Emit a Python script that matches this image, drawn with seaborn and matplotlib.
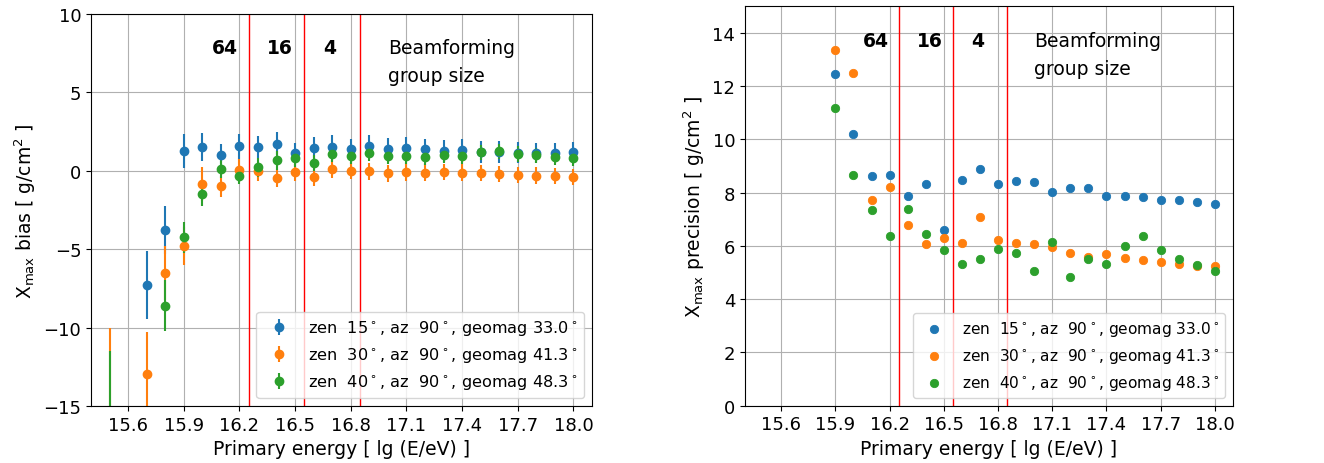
import numpy as np
import pandas as pd
import matplotlib
matplotlib.use("Agg")
import matplotlib.pyplot as plt
import seaborn as sns

# ---- data -------------------------------------------------------------
energy_bias = [15.5, 15.6, 15.7, 15.8, 15.9, 16.0, 16.1, 16.2, 16.3, 16.4, 16.5, 16.6, 16.7,
               16.8, 16.9, 17.0, 17.1, 17.2, 17.3, 17.4, 17.5, 17.6, 17.7, 17.8, 17.9, 18.0]
nan = np.nan
bias_zen15 = [nan, nan, -7.28, -3.77, 1.26, 1.51, 0.98, 1.55, 1.51, 1.72, 1.15, 1.47, 1.51,
              1.36, 1.60, 1.38, 1.47, 1.36, 1.26, 1.30, 1.21, 1.19, 1.15, 1.13, 1.15, 1.19]
err_zen15 = [nan, nan, 2.18, 1.55, 1.07, 0.87, 0.75, 0.77, 0.72, 0.73, 0.62, 0.70, 0.75,
             0.68, 0.70, 0.70, 0.68, 0.68, 0.68, 0.70, 0.70, 0.68, 0.68, 0.62, 0.62, 0.62]
bias_zen30 = [-18.0, nan, -12.93, -6.52, -4.81, -0.83, -0.98, 0.02, -0.04, -0.45, -0.09, -0.40, 0.09,
              0.00, -0.04, -0.17, -0.09, -0.13, -0.06, -0.11, -0.13, -0.21, -0.26, -0.30, -0.34, -0.38]
err_zen30 = [7.95, nan, 2.62, 1.75, 1.20, 1.10, 0.68, 0.75, 0.60, 0.57, 0.55, 0.55, 0.57,
             0.55, 0.55, 0.55, 0.55, 0.55, 0.52, 0.52, 0.52, 0.52, 0.52, 0.52, 0.52, 0.52]
bias_zen40 = [-17.5, nan, nan, -8.60, -4.24, -1.47, 0.13, -0.30, 0.23, 0.66, 0.81, 0.49, 1.09,
              0.92, 1.15, 0.92, 0.94, 0.85, 1.02, 0.94, 1.17, 1.24, 1.09, 0.98, 0.89, 0.83]
err_zen40 = [6.0, nan, nan, 1.64, 1.00, 0.75, 0.60, 0.55, 0.60, 0.62, 0.55, 0.50, 0.55,
             0.50, 0.50, 0.50, 0.50, 0.50, 0.50, 0.50, 0.50, 0.50, 0.50, 0.50, 0.50, 0.50]

energy_prec = [15.9, 16.0, 16.1, 16.2, 16.3, 16.4, 16.5, 16.6, 16.7, 16.8, 16.9,
               17.0, 17.1, 17.2, 17.3, 17.4, 17.5, 17.6, 17.7, 17.8, 17.9, 18.0]
prec_zen15 = [12.45, 10.20, 8.63, 8.68, 7.86, 8.32, 6.60, 8.48, 8.90, 8.32, 8.43,
              8.39, 8.02, 8.18, 8.18, 7.89, 7.88, 7.82, 7.72, 7.72, 7.66, 7.57]
prec_zen30 = [13.35, 12.51, 7.71, 8.22, 6.80, 6.09, 6.30, 6.12, 7.07, 6.21, 6.12,
              6.08, 5.95, 5.72, 5.57, 5.68, 5.53, 5.47, 5.38, 5.32, 5.23, 5.23]
prec_zen40 = [11.19, 8.67, 7.34, 6.38, 7.39, 6.44, 5.84, 5.31, 5.52, 5.89, 5.75,
              5.05, 6.16, 4.83, 5.50, 5.31, 5.99, 6.38, 5.84, 5.51, 5.28, 5.06]

zeniths = [15, 30, 40]
azimuths = [90, 90, 90]
geomag = [33.0, 41.3, 48.3]

group_edges = [16.25, 16.55, 16.85]
group_labels = ["64", "16", "4"]
group_label_x = [16.05, 16.35, 16.65]
note_lines = ["Beamforming", "group size"]

xticks = [15.6, 15.9, 16.2, 16.5, 16.8, 17.1, 17.4, 17.7, 18.0]

# ---- style ------------------------------------------------------------
plt.rcParams["font.family"] = ["DejaVu Sans"]
colors = sns.color_palette("tab10", 3)
labels = [f"zen {z:3.0f}$^\\circ$, az {a:3.0f}$^\\circ$, geomag {g:.1f}$^\\circ$"
          for z, a, g in zip(zeniths, azimuths, geomag)]

TICK_FS = 13
LABEL_FS = 13.5
TEXT_FS = 13.5
LEGEND_FS = {"bias": 11.6, "prec": 11.1}

fig = plt.figure(figsize=(13.24, 4.64), dpi=100)
ax1 = fig.add_axes([91 / 1324, 1 - 407 / 464, 501 / 1324, 392 / 464])
ax2 = fig.add_axes([745 / 1324, 1 - 406.7 / 464, 488 / 1324, 399.4 / 464])

# ---- left: bias with error bars -----------------------------------------
for vals, errs, c, lab in zip([bias_zen15, bias_zen30, bias_zen40],
                              [err_zen15, err_zen30, err_zen40], colors, labels):
    ax1.errorbar(energy_bias, vals, yerr=errs, fmt="o", color=c, ms=6, label=lab)

ax1.set_ylim(-15, 10)
ax1.set_ylabel(r"X$_{\mathrm{max}}$ bias [ g/cm$^2$ ]", fontsize=LABEL_FS)

# ---- right: precision scatter --------------------------------------------
prec_df = pd.DataFrame({"energy": energy_prec * 3,
                        "precision": prec_zen15 + prec_zen30 + prec_zen40,
                        "shower": sum([[lab] * len(energy_prec) for lab in labels], [])})
for lab, c in zip(labels, colors):
    sub = prec_df[prec_df["shower"] == lab]
    sns.scatterplot(data=sub, x="energy", y="precision", color=c, edgecolor=c, s=36,
                    linewidth=0.6, ax=ax2, label=lab)

ax2.set_ylim(0, 15)
ax2.set_yticks([0, 2, 4, 6, 8, 10, 12, 14])
ax2.set_ylabel(r"X$_{\mathrm{max}}$ precision [ g/cm$^2$ ]", fontsize=LABEL_FS)

# ---- shared decorations ----------------------------------------------------
for ax, key in ((ax1, "bias"), (ax2, "prec")):
    ax.set_xlim(15.4, 18.1)
    ax.set_xticks(xticks)
    ax.set_xticklabels([f"{t:.1f}" for t in xticks])
    ax.tick_params(labelsize=TICK_FS)
    ax.set_xlabel("Primary energy [ lg (E/eV) ]", fontsize=LABEL_FS)
    ax.grid(True, color="#b0b0b0", lw=0.8)
    ax.set_axisbelow(True)
    for edge in group_edges:
        ax.axvline(edge, color="red", lw=1)
    tr = ax.get_xaxis_transform()
    for gx, gl in zip(group_label_x, group_labels):
        ax.text(gx, 0.9, gl, transform=tr, fontsize=TEXT_FS, fontweight="bold",
                ha="left", va="baseline")
    # two-line note, second line set below the first baseline
    ax.text(17.0, 0.9, note_lines[0], transform=tr, fontsize=TEXT_FS,
            ha="left", va="baseline")
    ax.annotate(note_lines[1], xy=(17.0, 0.9), xycoords=tr, xytext=(0, -20.2),
                textcoords="offset points", fontsize=TEXT_FS, ha="left", va="baseline")
    ax.legend(loc="lower right", fontsize=LEGEND_FS[key])
    for sp in ax.spines.values():
        sp.set_color("black")
        sp.set_linewidth(0.8)

fig.savefig("out.png", dpi=100)
